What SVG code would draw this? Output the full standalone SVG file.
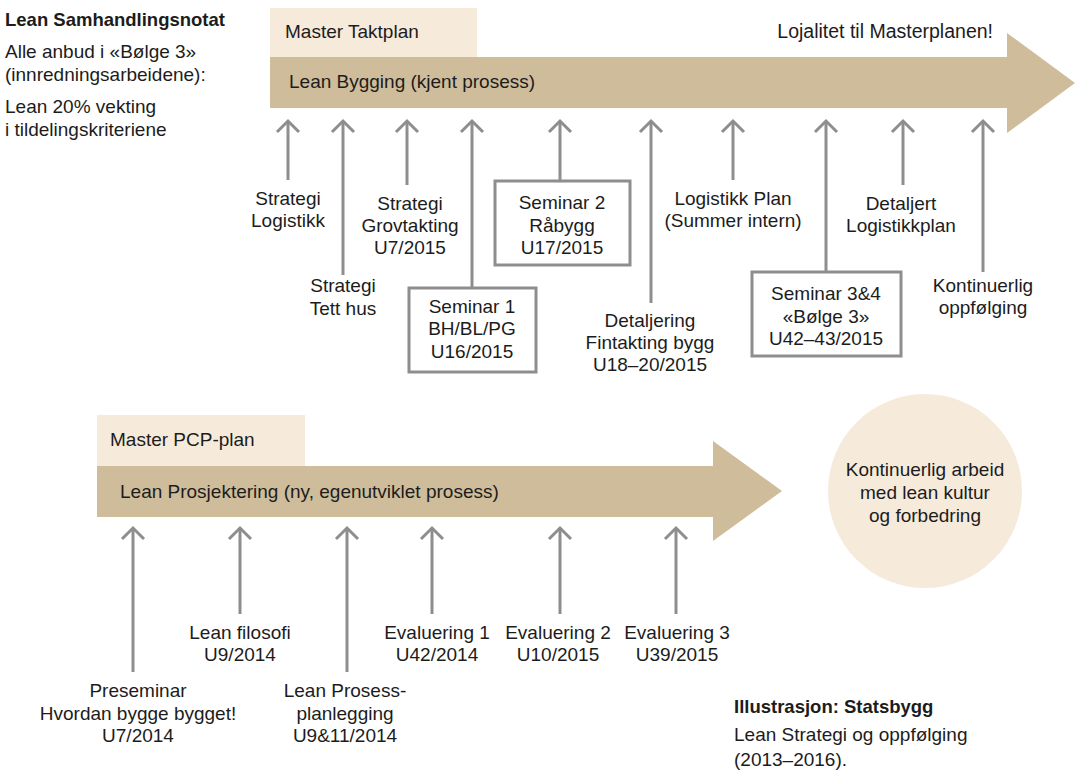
<svg xmlns="http://www.w3.org/2000/svg" width="1078" height="770" viewBox="0 0 1078 770">
  <style>
    text { font-family: "Liberation Sans", Arial, sans-serif; font-size: 19px; fill: #1c1c1c; }
    .b { font-weight: bold; font-size: 18.5px; }
    .c { text-anchor: middle; }
    .band { fill: #cfbc9b; }
    .tab { fill: #f6eadb; }
    .link { stroke: #8e8e91; stroke-width: 3; fill: none; marker-end: url(#chev); }
    .box { fill: #ffffff; stroke: #8e8e91; stroke-width: 3; }
  </style>
  <defs>
    <marker id="chev" markerUnits="userSpaceOnUse" markerWidth="30" markerHeight="30" viewBox="-15 -15 30 30" refX="0" refY="0" orient="auto">
      <path d="M-11,-11 L0,0 L-11,11" fill="none" stroke="#8e8e91" stroke-width="3"/>
    </marker>
  </defs>

  <!-- left notes -->
  <g id="notes">
    <text class="b" x="5" y="26">Lean Samhandlingsnotat</text>
    <text x="5" y="58">Alle anbud i «Bølge 3»</text>
    <text x="5" y="81">(innredningsarbeidene):</text>
    <text x="5" y="113">Lean 20% vekting</text>
    <text x="5" y="136">i tildelingskriteriene</text>
  </g>

  <!-- building track -->
  <g id="master-taktplan">
    <rect class="tab" x="270" y="8" width="207" height="49"/>
    <text x="285" y="38">Master Taktplan</text>
  </g>
  <g id="lean-bygging">
    <polygon class="band" points="270,57 1007,57 1007,33 1075,83 1007,133 1007,108 270,108"/>
    <text x="289" y="88">Lean Bygging (kjent prosess)</text>
    <text x="993" y="38" text-anchor="end" style="font-size:19.5px">Lojalitet til Masterplanen!</text>
  </g>

  <!-- design track -->
  <g id="master-pcp">
    <rect class="tab" x="97" y="415" width="208" height="51"/>
    <text x="110" y="446">Master PCP-plan</text>
  </g>
  <g id="lean-prosjektering">
    <polygon class="band" points="97,466 713,466 713,441 782,491 713,541 713,517 97,517"/>
    <text x="120" y="498">Lean Prosjektering (ny, egenutviklet prosess)</text>
  </g>

  <g id="kultur">
    <circle class="tab" cx="925" cy="491" r="97"/>
    <text class="c" x="925" y="476">Kontinuerlig arbeid</text>
    <text class="c" x="925" y="499">med lean kultur</text>
    <text class="c" x="925" y="522">og forbedring</text>
  </g>

  <!-- connectors -->
  <g id="connectors">
    <line class="link" x1="288" y1="180" x2="288" y2="121"/>
    <line class="link" x1="343" y1="275" x2="343" y2="121"/>
    <line class="link" x1="407" y1="185" x2="407" y2="121"/>
    <line class="link" x1="472" y1="288" x2="472" y2="121"/>
    <line class="link" x1="560" y1="181" x2="560" y2="121"/>
    <line class="link" x1="651" y1="303" x2="651" y2="121"/>
    <line class="link" x1="733" y1="180" x2="733" y2="121"/>
    <line class="link" x1="826" y1="272" x2="826" y2="121"/>
    <line class="link" x1="903" y1="185" x2="903" y2="121"/>
    <line class="link" x1="983" y1="272" x2="983" y2="121"/>

    <line class="link" x1="133" y1="672" x2="133" y2="528"/>
    <line class="link" x1="240" y1="614" x2="240" y2="528"/>
    <line class="link" x1="347" y1="672" x2="347" y2="528"/>
    <line class="link" x1="432" y1="614" x2="432" y2="528"/>
    <line class="link" x1="560" y1="614" x2="560" y2="528"/>
    <line class="link" x1="676" y1="614" x2="676" y2="528"/>
  </g>

  <!-- building milestones -->
  <g id="strategi-logistikk">
    <text class="c" x="288" y="205">Strategi</text>
    <text class="c" x="288" y="227">Logistikk</text>
  </g>
  <g id="strategi-tett-hus">
    <text class="c" x="343" y="292">Strategi</text>
    <text class="c" x="343" y="315">Tett hus</text>
  </g>
  <g id="strategi-grovtakting">
    <text class="c" x="410" y="210">Strategi</text>
    <text class="c" x="410" y="232">Grovtakting</text>
    <text class="c" x="410" y="254">U7/2015</text>
  </g>
  <g id="seminar-1">
    <rect class="box" x="409" y="288" width="127" height="84"/>
    <text class="c" x="472" y="313">Seminar 1</text>
    <text class="c" x="472" y="335">BH/BL/PG</text>
    <text class="c" x="472" y="358">U16/2015</text>
  </g>
  <g id="seminar-2">
    <rect class="box" x="495" y="181" width="135" height="84"/>
    <text class="c" x="562" y="209">Seminar 2</text>
    <text class="c" x="562" y="232">Råbygg</text>
    <text class="c" x="562" y="254">U17/2015</text>
  </g>
  <g id="detaljering">
    <text class="c" x="650" y="327">Detaljering</text>
    <text class="c" x="650" y="349">Fintakting bygg</text>
    <text class="c" x="650" y="371">U18–20/2015</text>
  </g>
  <g id="logistikk-plan">
    <text class="c" x="733" y="205">Logistikk Plan</text>
    <text class="c" x="733" y="227">(Summer intern)</text>
  </g>
  <g id="seminar-3-4">
    <rect class="box" x="752" y="272" width="149" height="84"/>
    <text class="c" x="826" y="300">Seminar 3&amp;4</text>
    <text class="c" x="826" y="323">«Bølge 3»</text>
    <text class="c" x="826" y="345">U42–43/2015</text>
  </g>
  <g id="detaljert-logistikkplan">
    <text class="c" x="901" y="210">Detaljert</text>
    <text class="c" x="901" y="232">Logistikkplan</text>
  </g>
  <g id="kontinuerlig-oppfolging">
    <text class="c" x="983" y="292">Kontinuerlig</text>
    <text class="c" x="983" y="314">oppfølging</text>
  </g>

  <!-- design milestones -->
  <g id="preseminar">
    <text class="c" x="138" y="697">Preseminar</text>
    <text class="c" x="138" y="720">Hvordan bygge bygget!</text>
    <text class="c" x="138" y="742">U7/2014</text>
  </g>
  <g id="lean-filosofi">
    <text class="c" x="240" y="639">Lean filosofi</text>
    <text class="c" x="240" y="661">U9/2014</text>
  </g>
  <g id="prosessplanlegging">
    <text class="c" x="345" y="697">Lean Prosess-</text>
    <text class="c" x="345" y="720">planlegging</text>
    <text class="c" x="345" y="742">U9&amp;11/2014</text>
  </g>
  <g id="evaluering-1">
    <text class="c" x="437" y="639">Evaluering 1</text>
    <text class="c" x="437" y="661">U42/2014</text>
  </g>
  <g id="evaluering-2">
    <text class="c" x="558" y="639">Evaluering 2</text>
    <text class="c" x="558" y="661">U10/2015</text>
  </g>
  <g id="evaluering-3">
    <text class="c" x="677" y="639">Evaluering 3</text>
    <text class="c" x="677" y="661">U39/2015</text>
  </g>

  <!-- credit -->
  <g id="credit">
    <text class="b" x="734" y="713">Illustrasjon: Statsbygg</text>
    <text x="734" y="741">Lean Strategi og oppfølging</text>
    <text x="734" y="766">(2013–2016).</text>
  </g>
</svg>
